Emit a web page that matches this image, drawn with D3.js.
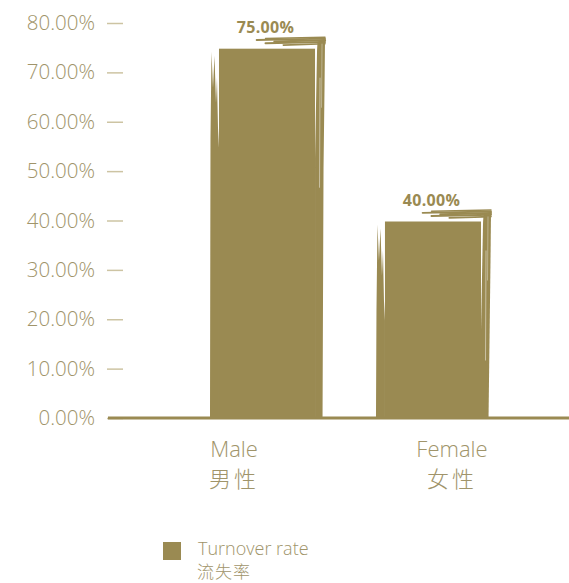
<!DOCTYPE html>
<html><head><meta charset="utf-8">
<script src="https://cdn.jsdelivr.net/npm/d3@7"></script>
<style>body{margin:0;background:#fff}svg{display:block}</style>
</head><body>
<script>
// ---- data ----
const categories = ["Male", "Female"];
const categoriesZh = ["男性", "女性"];
const turnoverRate = [75, 40];
const yTicks = [0, 10, 20, 30, 40, 50, 60, 70, 80];
const seriesName = "Turnover rate";
const seriesNameZh = "流失率";

// ---- styles ----
const W = 569, H = 583;
const barColor = "#9a8a52";
const textColor = "#a0946a";
const tickColor = "#cdc4a3";
const font = "'Open Sans','Noto Sans','Noto Sans CJK SC',sans-serif";

const svg = d3.select("body").append("svg").attr("width", W).attr("height", H);

const y = d3.scaleLinear().domain([0, 80]).range([418, 23]);
const x = d3.scaleBand().domain(categories).range([127, 570]).paddingInner(0.331).paddingOuter(0.5);
const xl = d3.scalePoint().domain(categories).range([234, 452]);

// y axis
const ya = svg.append("g").attr("transform", "translate(123,0)")
  .call(d3.axisLeft(y).tickValues(yTicks).tickSize(16).tickPadding(12)
    .tickFormat(d => d3.format(".2f")(d) + "%"));
ya.select(".domain").remove();
ya.selectAll(".tick line").attr("stroke", tickColor).attr("stroke-width", 1.5);
ya.selectAll(".tick text").attr("fill", textColor).style("font-family", font)
  .style("font-size", "20.5px").style("font-weight", 300);

// bars with brush texture
const bw = x.bandwidth();
const data = categories.map((c, i) => ({c, zh: categoriesZh[i], v: turnoverRate[i]}));
const B = y(0) + 1;

const g = svg.append("g");
data.forEach(d => {
  const L = x(d.c), R = L + bw, T = y(d.v);
  const bg = g.append("g").attr("fill", barColor);
  // core
  bg.append("rect").attr("x", L + 9).attr("y", T + 1).attr("width", bw - 15).attr("height", B - T - 1);
  // left rough edge
  bg.append("path").attr("d", d3.line()([
    [L, B], [L + 0.5, T + 90], [L + 1.5, T + 4], [L + 3, T + 40], [L + 4.5, T + 8],
    [L + 6, T + 55], [L + 7, T + 30], [L + 8, T + 80], [L + 9, T + 100], [L + 9, B]
  ]) + "Z");
  // right rough strip
  bg.append("path").attr("d", d3.line()([
    [R - 3.5, T - 6], [R + 4, T - 9], [R + 3.5, T + 40], [R + 2.5, T + 120], [R + 1.5, B],
    [R - 6, B], [R - 6, T + 110], [R - 4, T + 3]
  ]) + "Z");
  // top brush stroke (feathered lines)
  const topLines = [[0.5, -10, 1.4], [0.42, -8.5, 1.8], [0.58, -7, 2.2], [0.5, -5.2, 2], [0.66, -3.4, 1.6]];
  topLines.forEach(([s, dy, w]) => {
    bg.append("line").attr("x1", L + s * bw).attr("x2", R + 4)
      .attr("y1", T + dy + 0.8).attr("y2", T + dy - 0.5)
      .attr("stroke", barColor).attr("stroke-width", w).attr("stroke-linecap", "round");
  });
  // white streaks for texture
  bg.append("line").attr("x1", R - 1).attr("x2", R - 1.5).attr("y1", T + 30).attr("y2", T + 140)
    .attr("stroke", "#fff").attr("stroke-width", 0.8).attr("opacity", 0.6);
  bg.append("line").attr("x1", R + 1).attr("x2", R + 0.5).attr("y1", T - 4).attr("y2", T + 60)
    .attr("stroke", "#fff").attr("stroke-width", 0.7).attr("opacity", 0.5);

  // value label
  svg.append("text").attr("x", L + bw / 2).attr("y", T - 15).attr("text-anchor", "middle")
    .attr("fill", barColor).style("font-family", font).style("font-size", "16px")
    .style("font-weight", 700).style("letter-spacing", "0.3px")
    .text(d3.format(".2f")(d.v) + "%");
});

// baseline
svg.append("line").attr("x1", 108).attr("x2", W).attr("y1", y(0)).attr("y2", y(0))
  .attr("stroke", barColor).attr("stroke-width", 3);

// x labels
data.forEach(d => {
  svg.append("text").attr("x", xl(d.c)).attr("y", 457).attr("text-anchor", "middle")
    .attr("fill", textColor).style("font-family", font).style("font-size", "22px").style("font-weight", 300)
    .text(d.c);
  svg.append("text").attr("x", xl(d.c)).attr("y", 487).attr("text-anchor", "middle")
    .attr("fill", textColor).style("font-family", "'Noto Sans CJK SC',sans-serif").style("font-size", "22px")
    .style("font-weight", 300).style("letter-spacing", "3px")
    .text(d.zh);
});

// legend
const lg = svg.append("g");
lg.append("rect").attr("x", 163).attr("y", 542).attr("width", 18).attr("height", 18).attr("fill", barColor);
lg.append("text").attr("x", 198).attr("y", 555).attr("fill", textColor)
  .style("font-family", font).style("font-size", "18px").style("font-weight", 300).text(seriesName);
lg.append("text").attr("x", 197).attr("y", 578).attr("fill", textColor)
  .style("font-family", "'Noto Sans CJK SC',sans-serif").style("font-size", "17px").style("font-weight", 300)
  .style("letter-spacing", "1px").text(seriesNameZh);
</script>
</body></html>
